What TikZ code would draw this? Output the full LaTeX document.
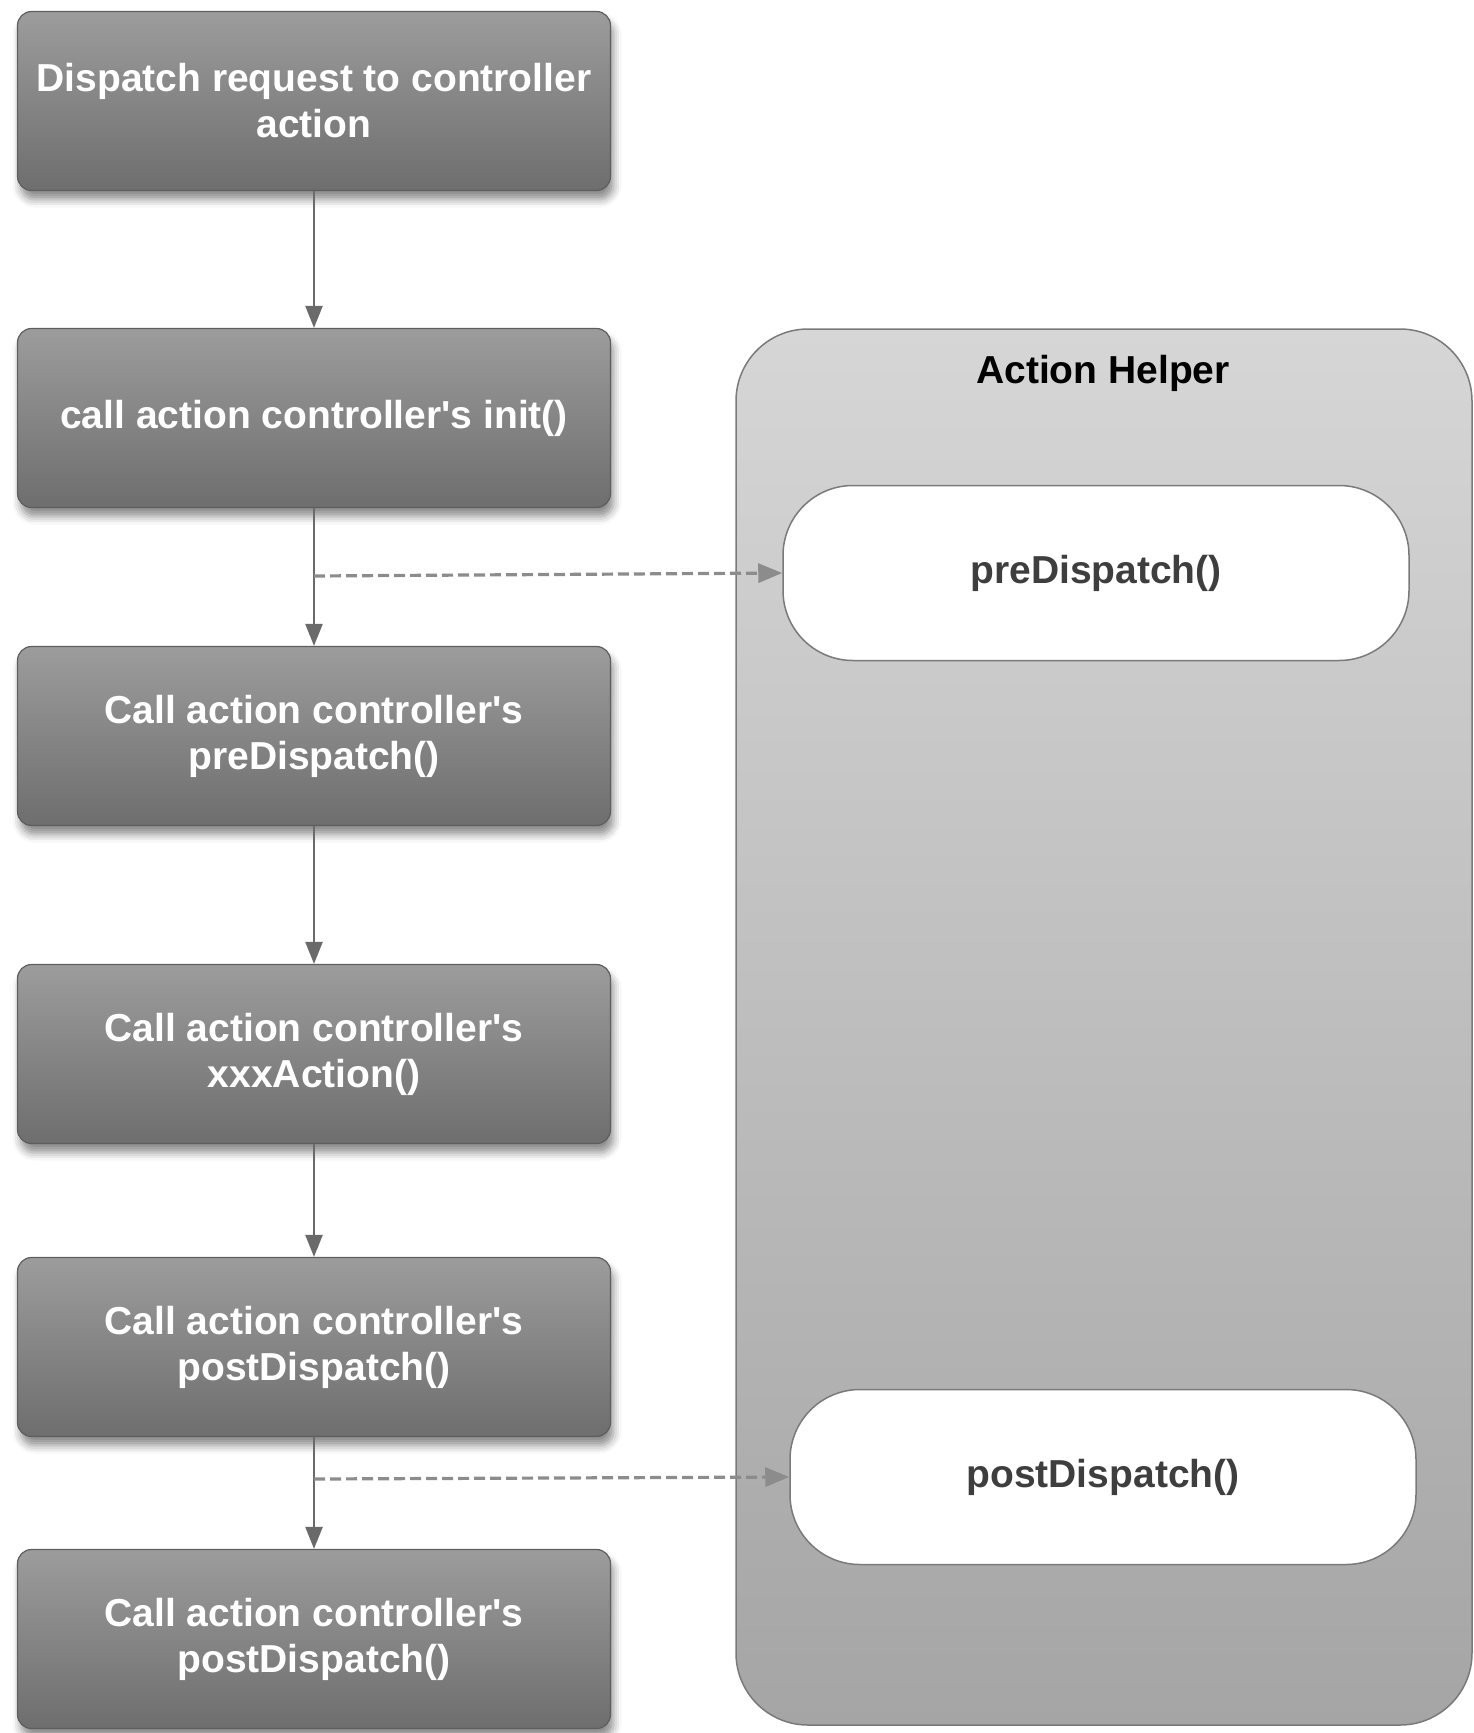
\documentclass[tikz,border=0pt]{standalone}
\usepackage{fontspec}
\newfontfamily\labelfont{Liberation Sans}
\usetikzlibrary{arrows.meta,shadows,shadows.blur}
\definecolor{boxtop}{HTML}{9C9C9C}
\definecolor{boxbot}{HTML}{6E6E6E}
\definecolor{boxline}{HTML}{5E5E5E}
\definecolor{helptop}{HTML}{D6D6D6}
\definecolor{helpbot}{HTML}{A5A5A5}
\definecolor{helpline}{HTML}{7A7A7A}
\definecolor{flow}{HTML}{6A6A6A}
\definecolor{dashc}{HTML}{8C8C8C}
\definecolor{pilltext}{HTML}{3E3E3E}
\tikzset{
  labeltext/.style={font=\labelfont\fontsize{39}{46}\selectfont\bfseries},
  stepbox/.style={rectangle, rounded corners=14pt, draw=boxline, line width=1.2pt,
    top color=boxtop, bottom color=boxbot, minimum width=593pt, minimum height=179pt,
    text=white, align=center, labeltext,
    blur shadow={shadow xshift=3pt, shadow yshift=-9pt, shadow blur radius=8pt,
      shadow opacity=45}},
  helper/.style={rectangle, rounded corners=72pt, draw=helpline, line width=1.5pt,
    top color=helptop, bottom color=helpbot, minimum width=736pt, minimum height=1396pt},
  pill/.style={rectangle, rounded corners=70pt, draw=helpline, line width=1.5pt,
    fill=white, minimum width=626pt, minimum height=175pt, text=pilltext, labeltext},
  flowarrow/.style={draw=flow, line width=2.4pt, -{Triangle[length=22pt,width=17pt]}},
  callarrow/.style={draw=dashc, line width=3.2pt, dash pattern=on 11pt off 5pt,
    -{Triangle[length=24pt,width=19pt]}},
}
\begin{document}
\begin{tikzpicture}[x=1pt,y=-1pt]
  \useasboundingbox (0,0) rectangle (1474,1733);

  % Action helper container
  \node[helper] (helper) at (1104,1027) {};
  \node[labeltext, text=black] (title) at (1103,373) {Action Helper};
  \node[pill] (pre) at (1096,573) {preDispatch()};
  \node[pill] (post) at (1103,1477) {postDispatch()};

  % Controller dispatch steps
  \node[stepbox] (s1) at (314,101) {Dispatch request to controller\\action};
  \node[stepbox] (s2) at (314,418) {call action controller's init()};
  \node[stepbox] (s3) at (314,736) {Call action controller's\\preDispatch()};
  \node[stepbox] (s4) at (314,1054) {Call action controller's\\xxxAction()};
  \node[stepbox] (s5) at (314,1347) {Call action controller's\\postDispatch()};
  \node[stepbox] (s6) at (314,1639) {Call action controller's\\postDispatch()};

  \draw[flowarrow] (s1.south) -- (s2.north);
  \draw[flowarrow] (s2.south) -- (s3.north);
  \draw[flowarrow] (s3.south) -- (s4.north);
  \draw[flowarrow] (s4.south) -- (s5.north);
  \draw[flowarrow] (s5.south) -- (s6.north);

  % Helper hooks branching off the flow
  \coordinate (b1) at (314,576);
  \coordinate (b2) at (314,1479);
  \draw[callarrow] (b1) -- (pre.west);
  \draw[callarrow] (b2) -- (post.west);
\end{tikzpicture}
\end{document}
